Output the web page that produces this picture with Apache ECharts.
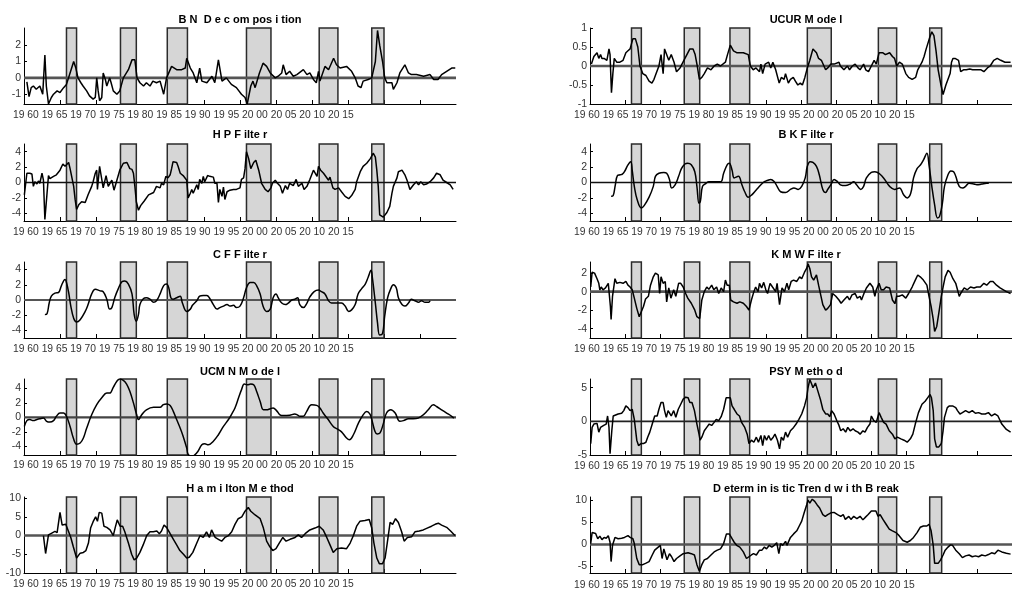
<!DOCTYPE html>
<html><head><meta charset="utf-8">
<script src="https://cdn.jsdelivr.net/npm/echarts@6/dist/echarts.min.js"></script>
<style>html,body{margin:0;padding:0;background:#fff}#c{width:1012px;height:590px}</style>
</head><body><div id="c"></div><script>
// ---------- DATA ----------
const recessions = [[1965.9,1967.3],[1973.4,1975.6],[1979.9,1982.7],[1990.9,1994.3],[2001.0,2003.6],[2008.3,2010.0]];
const xTicks = [1965,1970,1975,1980,1985,1990,1995,2000,2005,2010,2015];
const tickLabels = ['19 60','19 65','19 70','19 75','19 80','19 85','19 90','19 95','20 00','20 05','20 10','20 15'];
const titles = ['B N  D e c om pos i tion','UCUR M ode l','H P F ilte r','B K F ilte r','C F F ilte r','K M W F ilte r','UCM N M o de l','PSY M eth o d','H a m i lton M e thod','D eterm in is tic Tren d w i th B reak'];

const bnData = [[1960.4,-0.25],[1960.7,-1.15],[1961.0,-0.6],[1961.3,-0.5],[1961.7,-0.7],[1962.2,-0.5],[1962.6,-1.0],[1962.9,1.4],[1963.1,-0.5],[1963.4,-1.6],[1963.8,-1.2],[1964.1,-1.0],[1964.6,-0.8],[1965.0,-0.9],[1965.5,-0.6],[1965.9,-0.4],[1966.4,0.3],[1966.9,1.0],[1967.2,0.6],[1967.5,0],[1967.9,-0.3],[1968.2,-0.5],[1968.7,-0.8],[1969.1,-1.1],[1969.6,-1.3],[1969.9,-1.2],[1970.1,0],[1970.3,-0.8],[1970.5,-1.4],[1970.8,-1.2],[1971.0,0.3],[1971.3,-0.1],[1971.5,-0.5],[1971.9,0],[1972.1,-0.3],[1972.4,-0.8],[1972.9,-1.0],[1973.3,-0.8],[1973.8,0],[1974.5,0.5],[1975.0,1.1],[1975.4,1.1],[1975.7,0],[1976.1,-0.3],[1976.6,-0.5],[1977.0,-0.3],[1977.5,-0.5],[1977.9,-0.2],[1978.4,-0.3],[1978.9,-0.2],[1979.4,-1.0],[1979.8,0],[1980.5,0.7],[1981.2,0.5],[1981.9,0.5],[1982.4,0.6],[1982.6,1.2],[1983.1,0.6],[1983.5,0.3],[1984.0,-0.3],[1984.4,0.6],[1984.7,-0.2],[1985.4,-0.3],[1986.1,0.1],[1986.5,-0.3],[1987.0,1.1],[1987.5,-0.2],[1988.1,0],[1988.8,-0.4],[1989.5,-0.6],[1990.2,-1.0],[1990.7,-1.2],[1991.0,-1.6],[1991.5,-0.5],[1991.8,-0.2],[1992.1,-0.6],[1992.7,0.3],[1993.2,0.9],[1993.7,0.7],[1994.2,0.3],[1994.9,0],[1995.3,0.1],[1995.8,0.3],[1996.0,0.8],[1996.4,0.2],[1996.9,0.4],[1997.4,0.1],[1997.9,0.2],[1998.8,0.5],[1999.3,0.2],[1999.7,0.3],[2000.2,-0.1],[2000.6,-0.3],[2000.9,0.4],[2001.1,-0.2],[2001.8,0.7],[2002.3,0.5],[2003.0,1.2],[2003.4,0.8],[2003.9,0.6],[2004.8,0.7],[2005.5,0.4],[2006.0,0],[2006.4,-0.5],[2006.8,-0.6],[2007.1,-0.2],[2007.8,-0.1],[2008.3,0],[2008.8,1.0],[2009.1,2.9],[2009.4,2.0],[2009.8,1.0],[2010.1,0],[2010.4,-0.3],[2011.1,-0.3],[2011.3,-0.7],[2011.8,-0.3],[2012.2,0.3],[2012.9,0.8],[2013.4,0.3],[2013.8,0.2],[2014.5,0.2],[2015.5,0.1],[2016.4,0.2],[2016.9,-0.1],[2017.5,-0.1],[2018.0,0.2],[2018.7,0.4],[2019.4,0.6],[2019.9,0.6]];

const ucurData = [[1960.2,0.05],[1960.55,0.25],[1961.0,0.35],[1961.25,0.2],[1961.5,0.3],[1961.7,0.2],[1962.0,0.2],[1962.4,0.15],[1962.7,0.45],[1962.85,0.3],[1963.05,-0.7],[1963.25,-0.2],[1963.45,0.2],[1963.8,0.1],[1964.25,0.1],[1964.7,0.15],[1965.1,0.35],[1965.4,0.4],[1965.7,0.45],[1966.1,0.72],[1966.45,0.72],[1966.8,0.5],[1967.1,0.0],[1967.5,-0.2],[1967.95,-0.25],[1968.4,-0.4],[1968.8,-0.45],[1969.1,-0.35],[1969.4,-0.2],[1969.8,0.0],[1970.1,0.3],[1970.4,-0.2],[1970.6,0.45],[1970.85,0.5],[1971.2,0.15],[1971.55,0.3],[1971.95,0.1],[1972.3,-0.15],[1972.8,-0.05],[1973.5,0.2],[1974.2,0.45],[1974.65,0.45],[1974.95,0.3],[1975.25,0.0],[1975.55,-0.35],[1975.9,-0.3],[1976.25,-0.2],[1976.7,-0.05],[1977.2,-0.1],[1977.65,0.0],[1978.1,0.05],[1978.55,0.0],[1979.25,0.1],[1979.55,0.3],[1979.95,0.55],[1980.4,0.4],[1980.85,0.35],[1981.8,0.35],[1982.5,0.3],[1982.8,0.0],[1983.2,-0.1],[1983.6,-0.05],[1984.1,-0.15],[1984.3,0.05],[1984.55,-0.2],[1984.9,0.05],[1985.4,0.1],[1985.7,-0.05],[1986.0,0.1],[1986.4,-0.1],[1986.9,-0.45],[1987.2,-0.3],[1987.6,-0.35],[1987.8,-0.2],[1988.2,-0.45],[1988.5,-0.35],[1988.9,-0.3],[1989.2,-0.4],[1989.55,-0.5],[1989.9,-0.45],[1990.2,-0.5],[1990.55,-0.3],[1990.9,-0.05],[1991.25,0.15],[1991.7,0.45],[1992.2,0.35],[1992.5,0.2],[1992.9,0.15],[1993.5,-0.1],[1993.8,-0.05],[1994.25,0.05],[1994.7,0.05],[1994.9,0.1],[1995.4,0.1],[1995.6,0],[1996.1,-0.1],[1996.6,0],[1996.9,-0.1],[1997.3,0],[1997.7,0.05],[1998.1,-0.05],[1998.4,-0.1],[1998.9,0.05],[1999.2,-0.1],[1999.6,-0.15],[2000.0,0],[2000.4,0.15],[2000.7,0.05],[2001.1,0.35],[2001.6,0.35],[2002.0,0.3],[2002.6,0.35],[2003.0,0.25],[2003.3,0.2],[2003.6,0],[2004.0,0.1],[2004.4,0.05],[2004.9,-0.2],[2005.3,-0.3],[2005.8,-0.35],[2006.3,-0.3],[2006.6,-0.1],[2006.9,0],[2007.2,0.1],[2007.5,0.25],[2007.8,0.45],[2008.3,0.75],[2008.6,0.9],[2008.9,0.8],[2009.2,0.4],[2009.5,-0.1],[2009.9,-0.5],[2010.2,-0.75],[2010.6,-0.5],[2010.9,-0.35],[2011.2,-0.2],[2011.4,0.1],[2011.6,0.2],[2011.9,0.2],[2012.4,0.15],[2012.7,-0.15],[2013.1,-0.1],[2013.5,-0.1],[2014.0,-0.08],[2014.4,-0.1],[2015.1,-0.1],[2015.6,-0.1],[2016.0,-0.15],[2016.5,-0.05],[2016.9,0],[2017.4,0.15],[2017.9,0.2],[2018.4,0.15],[2019.0,0.1],[2019.8,0.1]];

const hpData = [[1960.05,-1.6],[1960.4,1.2],[1960.8,1.2],[1961.1,1.1],[1961.3,-0.5],[1961.5,0.1],[1961.8,-0.2],[1962.0,0.2],[1962.2,-0.1],[1962.5,1.2],[1962.7,0.3],[1962.9,-4.8],[1963.2,-1.4],[1963.4,0.9],[1963.6,0.5],[1964.1,0.8],[1964.5,1.0],[1965.0,1.6],[1965.4,2.4],[1965.7,2.1],[1965.9,1.9],[1966.2,2.6],[1966.4,1.8],[1966.6,1.6],[1966.9,-0.5],[1967.1,-2.2],[1967.3,-3.5],[1967.6,-2.9],[1968.0,-2.5],[1968.5,-2.6],[1968.9,-1.6],[1969.4,-0.5],[1969.6,0.1],[1969.9,1.2],[1970.1,1.6],[1970.2,-0.9],[1970.5,2.1],[1970.7,2.3],[1971.0,-0.7],[1971.4,0.9],[1971.7,-0.5],[1972.2,0.3],[1972.5,-1.0],[1972.9,0.3],[1973.3,1.6],[1973.8,2.5],[1974.3,2.6],[1974.7,1.8],[1975.0,1.7],[1975.2,1.2],[1975.4,-0.5],[1975.6,-2.5],[1975.9,-3.6],[1976.2,-3.0],[1976.7,-2.4],[1977.3,-1.6],[1978.0,-1.3],[1978.4,-0.5],[1978.9,-0.7],[1979.1,-0.1],[1979.4,-0.3],[1979.7,0.8],[1980.0,0.6],[1980.3,1.0],[1980.5,1.8],[1980.7,2.7],[1981.2,2.6],[1981.4,2.1],[1981.7,1.2],[1982.1,0.9],[1982.6,0.3],[1982.8,-2.0],[1983.1,-1.4],[1983.3,-0.9],[1983.5,-1.4],[1984.0,-0.3],[1984.2,-0.9],[1984.4,0.4],[1984.7,-0.1],[1984.9,0.8],[1985.1,0.1],[1985.5,0.9],[1985.8,0.8],[1986.3,0.7],[1986.5,-0.1],[1986.8,-0.1],[1987.0,-2.6],[1987.2,-0.9],[1987.5,-1.8],[1987.7,-0.6],[1987.9,-2.2],[1988.2,-1.2],[1988.6,-1.0],[1989.1,-0.9],[1989.5,-0.9],[1990.0,-0.7],[1990.2,0.4],[1990.5,0.6],[1990.7,1.8],[1990.9,4.0],[1991.2,3.1],[1991.5,1.8],[1991.9,2.6],[1992.2,2.9],[1992.6,1.6],[1993.0,-0.1],[1993.5,-0.9],[1993.9,-1.2],[1994.3,-0.7],[1994.5,-0.1],[1994.9,0.3],[1995.1,0],[1995.6,-0.5],[1995.9,-1.4],[1996.3,-0.4],[1996.6,-0.9],[1996.9,-0.1],[1997.4,-0.4],[1997.8,0.4],[1998.1,-0.5],[1998.6,-0.1],[1998.9,-0.9],[1999.3,-0.5],[1999.7,0.4],[2000.2,1.6],[2000.4,1.4],[2000.7,0.8],[2000.9,2.1],[2001.2,1.6],[2001.6,1.2],[2002.3,0.3],[2002.5,0.7],[2002.9,-0.7],[2003.2,-0.9],[2003.7,-0.7],[2004.1,-1.2],[2004.6,-1.8],[2005.1,-2.1],[2005.5,-1.7],[2006.0,-0.9],[2006.2,0.1],[2006.7,1.4],[2007.1,2.1],[2007.6,2.5],[2008.1,3.1],[2008.5,3.8],[2008.8,3.3],[2009.0,1.6],[2009.2,-0.5],[2009.4,-4.2],[2009.9,-4.5],[2010.4,-3.9],[2010.8,-3.1],[2011.1,-1.4],[2011.3,-0.5],[2011.8,0.6],[2012.0,1.4],[2012.5,1.6],[2012.9,1.0],[2013.2,0.3],[2013.4,-0.3],[2013.6,-0.9],[2014.1,-0.3],[2014.5,0.1],[2014.8,-0.3],[2015.1,0.1],[2015.5,-0.3],[2015.9,-0.2],[2016.4,0.1],[2016.9,0.6],[2017.3,1.2],[2017.8,1.0],[2018.2,0.3],[2018.7,0],[2019.2,-0.3],[2019.6,-0.9]];

const bkData = [[1963.0,-1.8],[1963.3,-1.7],[1963.6,-0.3],[1963.9,0.9],[1964.3,1.0],[1964.6,1.1],[1964.9,1.4],[1965.4,2.3],[1965.8,2.7],[1966.0,1.6],[1966.3,-0.5],[1966.7,-2.2],[1967.3,-3.3],[1967.7,-3.0],[1968.4,-1.9],[1969.0,-0.5],[1969.3,0.8],[1969.8,1.2],[1970.5,1.3],[1970.9,1.2],[1971.3,0.4],[1971.6,-0.7],[1972.1,-0.3],[1972.6,0.8],[1973.0,1.8],[1973.5,2.4],[1973.9,2.5],[1974.4,2.3],[1974.9,1.4],[1975.2,-0.5],[1975.5,-2.7],[1975.7,-2.4],[1976.0,-0.5],[1976.5,-0.1],[1976.9,0.1],[1977.9,0.1],[1978.6,0.1],[1979.0,1.2],[1979.5,2.3],[1979.8,2.5],[1980.2,1.6],[1980.5,0.6],[1981.1,0.8],[1981.6,-0.3],[1982.0,-1.2],[1982.5,-1.9],[1983.0,-1.6],[1983.6,-1.0],[1984.3,-0.3],[1984.8,0.1],[1985.3,0.3],[1985.7,0.4],[1986.2,0.1],[1986.6,-0.5],[1987.1,-1.2],[1987.8,-1.3],[1988.5,-0.9],[1989.0,-0.7],[1989.6,-0.9],[1990.1,-0.5],[1990.6,0.6],[1990.9,2.1],[1991.3,2.7],[1991.7,2.6],[1992.2,2.1],[1992.6,1.0],[1993.1,-0.9],[1993.5,-1.3],[1993.8,-0.9],[1994.3,-0.2],[1994.7,0.4],[1995.2,0.1],[1995.6,-0.3],[1996.3,-0.4],[1997.0,-0.2],[1997.5,0.1],[1997.9,-0.3],[1998.5,-0.9],[1998.9,-0.5],[1999.3,0.6],[2000.0,1.3],[2000.5,1.4],[2001.2,1.1],[2001.9,0.4],[2002.6,-0.5],[2003.3,-0.9],[2004.0,-0.7],[2004.6,-1.6],[2005.1,-2.0],[2005.6,-1.4],[2006.0,0.6],[2006.5,1.8],[2007.0,2.3],[2007.4,2.9],[2007.9,3.8],[2008.2,2.3],[2008.6,-0.5],[2009.0,-2.9],[2009.4,-4.6],[2009.7,-4.4],[2010.1,-2.7],[2010.4,-0.5],[2010.9,1.0],[2011.3,1.5],[2011.7,1.4],[2012.0,0.8],[2012.5,-0.5],[2013.0,-0.7],[2013.4,-0.5],[2013.9,-0.1],[2014.6,-0.2],[2015.0,-0.3],[2015.7,-0.2],[2016.4,-0.1],[2016.7,-0.1]];

const cfData = [[1962.9,-1.9],[1963.2,-1.8],[1963.5,-0.4],[1963.8,0.5],[1964.3,0.9],[1964.8,1.0],[1965.2,1.9],[1965.7,2.7],[1965.9,2.3],[1966.2,1.0],[1966.5,-0.8],[1966.9,-2.4],[1967.3,-2.9],[1967.8,-2.6],[1968.5,-1.5],[1968.9,-0.6],[1969.4,0.8],[1969.9,1.4],[1970.6,1.2],[1971.0,1.1],[1971.5,0.1],[1971.9,-1.2],[1972.2,-1.0],[1972.6,0.3],[1973.1,1.5],[1973.6,2.4],[1974.0,2.5],[1974.5,2.1],[1975.0,0.8],[1975.3,-1.9],[1975.6,-2.8],[1975.9,-1.9],[1976.1,-0.6],[1976.6,0.2],[1977.0,0.3],[1977.5,0.1],[1978.0,-0.3],[1978.4,-0.1],[1978.9,0.8],[1979.4,1.9],[1979.8,2.1],[1980.1,1.6],[1980.4,0.3],[1980.7,0.1],[1981.2,0.3],[1981.7,0.5],[1982.0,-0.4],[1982.6,-1.5],[1983.1,-1.2],[1983.4,-0.7],[1984.0,-0.1],[1984.4,0.5],[1984.9,0.6],[1985.4,0.6],[1985.8,0.2],[1986.3,-0.6],[1986.8,-1.2],[1987.2,-1.0],[1987.7,-0.8],[1988.2,-0.6],[1988.6,-0.8],[1989.1,-0.7],[1989.5,-1.0],[1990.0,-0.8],[1990.5,0.3],[1990.9,1.6],[1991.4,2.3],[1991.9,2.3],[1992.3,1.9],[1992.8,0.8],[1993.2,-0.8],[1993.7,-1.5],[1994.2,-1.2],[1994.6,0.3],[1995.0,0.8],[1995.3,0.3],[1995.8,-0.4],[1996.3,-0.6],[1996.7,-0.4],[1997.2,0],[1997.6,0.1],[1998.0,0.3],[1998.3,-0.6],[1998.8,-1.0],[1999.3,-0.4],[1999.7,0.4],[2000.3,1.1],[2000.9,1.3],[2001.3,1.1],[2001.8,0.8],[2002.3,-0.1],[2002.7,-0.4],[2003.2,-0.4],[2003.7,-0.4],[2004.1,-0.4],[2004.6,-0.8],[2005.1,-1.5],[2005.5,-1.3],[2006.0,-0.6],[2006.4,0.8],[2006.9,1.5],[2007.4,2.1],[2007.8,3.0],[2008.2,3.9],[2008.4,2.8],[2008.8,-0.4],[2009.1,-3.0],[2009.4,-4.6],[2009.8,-4.4],[2010.1,-2.1],[2010.5,0.3],[2010.9,1.4],[2011.3,2.0],[2011.7,1.6],[2012.0,0.3],[2012.5,-0.6],[2012.9,-0.8],[2013.4,-0.4],[2013.8,0.1],[2014.3,-0.1],[2014.8,-0.3],[2015.2,-0.1],[2015.7,-0.3],[2016.2,-0.3],[2016.4,-0.1]];

const kmwData = [[1960.1,0.5],[1960.3,2.1],[1960.65,2.0],[1961.0,1.4],[1961.25,0.9],[1961.4,0.2],[1961.6,0.5],[1961.85,0.2],[1962.2,0.4],[1962.4,0.25],[1962.6,0.9],[1962.9,-1.6],[1963.0,-3.0],[1963.2,-0.5],[1963.55,1.4],[1963.8,0.9],[1964.25,1.0],[1964.7,0.9],[1965.1,1.1],[1965.4,0.7],[1965.7,0.5],[1966.0,0.2],[1966.3,-0.7],[1966.65,-1.8],[1967.0,-2.7],[1967.25,-2.9],[1967.6,-1.6],[1967.9,-0.8],[1968.3,-0.5],[1968.6,0.7],[1969.0,1.6],[1969.3,2.0],[1969.7,1.8],[1969.9,-0.2],[1970.1,1.6],[1970.4,0.9],[1970.7,1.1],[1970.9,-1.1],[1971.2,0.4],[1971.5,-0.7],[1971.9,0.2],[1972.2,-0.5],[1972.6,0.9],[1972.9,0.9],[1973.25,0.5],[1973.6,-0.2],[1973.9,-0.7],[1974.4,-1.25],[1974.9,-2.0],[1975.2,-2.7],[1975.6,-2.9],[1975.9,-0.9],[1976.25,0],[1976.6,0.5],[1976.9,0.25],[1977.3,0.7],[1977.6,0.2],[1978.0,0.5],[1978.3,-0.2],[1978.65,0.4],[1979.0,0],[1979.25,1.25],[1979.5,0.7],[1979.8,0.7],[1980.0,-0.9],[1980.4,-1.1],[1980.9,-1.25],[1981.3,-1.1],[1981.8,-1.25],[1982.25,-1.6],[1982.6,-2.0],[1982.95,-0.9],[1983.3,0],[1983.55,0.5],[1983.9,0],[1984.1,0.9],[1984.4,0.4],[1984.7,1.0],[1985.0,0.2],[1985.25,-0.2],[1985.6,0.9],[1985.95,0.5],[1986.4,0],[1986.6,0.9],[1986.95,-1.4],[1987.3,0.4],[1987.65,0],[1988.0,0.9],[1988.25,0.2],[1988.6,1.1],[1988.95,1.25],[1989.4,1.1],[1989.8,1.6],[1990.1,1.4],[1990.5,2.1],[1990.8,2.5],[1991.0,3.0],[1991.25,2.5],[1991.5,1.6],[1991.8,1.25],[1992.2,1.8],[1992.5,0.7],[1992.8,-0.35],[1993.1,-1.4],[1993.5,-2.0],[1993.8,-1.8],[1994.2,-1.4],[1994.5,-0.2],[1994.95,-0.5],[1995.4,-0.9],[1995.7,-1.25],[1996.1,-0.9],[1996.6,-0.5],[1996.9,-0.9],[1997.25,-0.35],[1997.7,-0.2],[1998.0,-0.7],[1998.4,-0.5],[1998.6,-0.9],[1998.95,-0.2],[1999.3,0.4],[1999.8,0.9],[2000.2,0.5],[2000.5,-0.5],[2000.7,0.2],[2001.1,0.9],[2001.4,0.2],[2001.75,0.2],[2002.1,0.5],[2002.6,0.4],[2003.0,-0.9],[2003.35,-1.3],[2003.6,-0.5],[2003.95,-0.5],[2004.4,-0.35],[2004.9,-0.7],[2005.3,-0.2],[2005.8,0.5],[2006.25,1.25],[2006.6,1.8],[2006.95,1.6],[2007.4,1.25],[2007.9,0.7],[2008.2,-0.5],[2008.5,-1.6],[2008.8,-3.0],[2009.0,-4.3],[2009.3,-3.75],[2009.6,-2.3],[2009.95,-0.5],[2010.2,0.5],[2010.5,1.6],[2010.9,2.3],[2011.2,2.1],[2011.6,1.4],[2012.0,0.9],[2012.5,-0.5],[2012.7,-0.2],[2013.2,0.4],[2013.65,0.2],[2014.1,0.5],[2014.6,0.4],[2015.0,0.5],[2015.5,0.5],[2016.0,0.9],[2016.4,0.7],[2016.9,1.1],[2017.3,1.1],[2017.8,0.7],[2018.3,0.4],[2018.5,0.2],[2019.2,0.0],[2019.8,-0.2]];

const ucmnData = [[1960.05,-1.25],[1960.4,-0.45],[1960.8,-0.3],[1961.3,-0.45],[1961.8,-0.3],[1962.2,-0.2],[1962.7,-0.1],[1963.15,-0.55],[1963.6,-0.65],[1964.1,-0.45],[1964.5,0.15],[1965.0,0.6],[1965.5,0.6],[1965.9,0.15],[1966.4,-1.25],[1966.85,-2.85],[1967.3,-3.7],[1967.8,-3.55],[1968.25,-2.85],[1968.7,-1.5],[1969.4,0.35],[1970.1,1.75],[1970.8,2.7],[1971.5,3.35],[1971.9,3.35],[1972.4,4.15],[1972.9,5.0],[1973.3,5.3],[1973.8,5.1],[1974.25,4.6],[1974.7,3.6],[1975.2,2.0],[1975.65,0.35],[1975.9,-0.3],[1976.35,0.35],[1977.0,1.05],[1978.0,1.4],[1978.9,1.4],[1979.35,1.75],[1979.8,1.85],[1980.3,1.65],[1980.75,0.8],[1981.2,-0.3],[1981.7,-1.5],[1982.1,-2.6],[1982.6,-4.25],[1982.8,-5.1],[1983.3,-5.4],[1984.0,-4.9],[1984.7,-3.8],[1985.1,-3.65],[1985.6,-3.8],[1986.3,-3.3],[1987.0,-2.4],[1987.7,-1.25],[1988.4,-0.3],[1988.85,0.45],[1989.3,1.3],[1989.8,2.7],[1990.2,3.8],[1990.6,4.6],[1991.0,4.5],[1991.5,4.6],[1991.9,4.5],[1992.3,3.6],[1992.8,2.2],[1993.25,1.05],[1993.7,1.05],[1994.2,1.2],[1994.6,1.3],[1995.1,0.9],[1995.55,0.35],[1996.0,0.25],[1996.9,0.3],[1997.6,0.45],[1997.95,0.35],[1998.3,0.15],[1998.8,0.15],[1999.25,0.8],[1999.95,1.75],[2000.65,1.65],[2001.1,1.3],[2001.55,0.6],[2002.25,-0.3],[2002.95,-1.25],[2003.5,-1.6],[2004.1,-2.0],[2004.8,-2.85],[2005.2,-3.1],[2005.75,-2.4],[2006.45,-0.8],[2007.1,0.35],[2007.6,0.8],[2008.05,0.45],[2008.3,-0.3],[2008.75,-1.95],[2009.05,-2.3],[2009.45,-2.15],[2009.9,-0.9],[2010.35,0.6],[2010.95,1.05],[2011.55,0.6],[2012.2,-0.55],[2012.7,-0.45],[2013.4,-0.2],[2014.05,-0.2],[2014.75,-0.1],[2015.45,0.35],[2016.15,1.05],[2016.85,1.75],[2017.3,1.5],[2018.0,1.05],[2018.7,0.6],[2019.4,0.15],[2019.7,-0.1]];

const psyData = [[1960.1,-3.3],[1960.3,-0.9],[1960.55,-0.4],[1961.0,-0.3],[1961.25,-1.6],[1961.5,-0.9],[1961.7,-1.1],[1961.95,-0.6],[1962.3,-0.4],[1962.5,0.8],[1962.7,-0.9],[1962.85,-4.8],[1963.1,-1.4],[1963.3,0.8],[1963.55,0.6],[1964.0,1.1],[1964.5,1.2],[1964.8,1.6],[1965.1,2.3],[1965.4,2.05],[1965.7,1.6],[1966.0,1.8],[1966.3,0.3],[1966.65,-2.8],[1966.9,-3.6],[1967.25,-3.3],[1967.6,-3.3],[1967.95,-3.1],[1968.2,-2.35],[1968.5,-1.6],[1968.85,-0.4],[1969.2,0.8],[1969.55,0.8],[1969.8,1.8],[1970.1,2.8],[1970.4,2.8],[1970.6,1.6],[1970.85,0.6],[1971.1,1.6],[1971.3,1.8],[1971.55,0.8],[1971.9,1.6],[1972.2,0.6],[1972.55,1.8],[1972.9,2.55],[1973.25,3.3],[1973.6,3.6],[1973.95,3.5],[1974.2,2.8],[1974.5,2.8],[1974.85,1.6],[1975.2,-0.4],[1975.5,-1.9],[1975.65,-2.8],[1975.9,-2.35],[1976.25,-1.4],[1976.6,-0.9],[1976.95,-0.4],[1977.3,-0.6],[1977.65,-0.15],[1977.95,0.3],[1978.3,0.1],[1978.65,0.7],[1979.0,1.8],[1979.35,3.5],[1979.6,3.3],[1979.95,3.5],[1980.2,2.3],[1980.5,1.8],[1980.9,1.1],[1981.25,0.8],[1981.55,-0.15],[1982.0,-0.9],[1982.35,-1.9],[1982.6,-3.3],[1982.95,-2.8],[1983.3,-3.1],[1983.65,-2.35],[1983.95,-3.1],[1984.3,-2.1],[1984.55,-3.6],[1984.8,-2.1],[1985.1,-2.8],[1985.4,-2.1],[1985.7,-2.8],[1986.05,-2.35],[1986.3,-1.9],[1986.65,-2.8],[1986.95,-4.1],[1987.2,-2.35],[1987.5,-2.8],[1987.8,-1.6],[1988.1,-2.35],[1988.5,-1.4],[1988.95,-0.9],[1989.3,-0.4],[1989.7,0.3],[1990.1,1.1],[1990.5,2.3],[1990.8,3.5],[1991.0,5.0],[1991.25,6.2],[1991.5,5.6],[1991.7,5.0],[1992.05,5.7],[1992.4,4.5],[1992.75,3.3],[1993.1,1.8],[1993.5,1.1],[1993.8,1.1],[1994.1,0.7],[1994.35,1.6],[1994.7,1.1],[1995.1,0.1],[1995.4,-0.6],[1995.65,-1.4],[1996.0,-1.1],[1996.35,-1.6],[1996.65,-0.9],[1997.0,-1.4],[1997.4,-1.1],[1997.7,-1.4],[1998.1,-1.6],[1998.4,-1.9],[1998.8,-1.4],[1999.1,-1.6],[1999.45,-0.9],[1999.8,-0.4],[2000.0,0.8],[2000.35,0.1],[2000.7,-0.15],[2001.1,1.3],[2001.4,0.6],[2001.75,-0.15],[2002.1,-0.4],[2002.55,-1.4],[2003.0,-1.9],[2003.35,-2.6],[2003.7,-2.35],[2004.2,-2.6],[2004.65,-2.8],[2005.1,-3.1],[2005.55,-2.6],[2005.9,-1.9],[2006.25,-0.4],[2006.7,1.3],[2007.2,2.55],[2007.65,3.0],[2008.0,3.5],[2008.35,4.0],[2008.55,3.5],[2008.8,1.6],[2009.0,-2.6],[2009.25,-3.8],[2009.6,-3.8],[2009.95,-3.3],[2010.2,-1.4],[2010.4,0.6],[2010.8,2.05],[2011.1,2.3],[2011.35,2.55],[2011.55,2.3],[2012.0,2.05],[2012.25,1.6],[2012.6,1.1],[2012.95,1.3],[2013.4,1.6],[2013.9,1.3],[2014.35,1.6],[2014.8,1.2],[2015.25,1.3],[2015.7,1.1],[2016.2,1.1],[2016.65,1.3],[2017.1,0.8],[2017.55,1.1],[2018.0,0.8],[2018.55,-0.4],[2019.2,-1.2],[2019.8,-1.6]];

const hamData = [[1962.7,0],[1963.0,-4.8],[1963.4,0.2],[1963.8,0.6],[1964.3,1.1],[1964.6,0.8],[1965.0,6.2],[1965.3,2.8],[1965.8,3.0],[1966.2,1.0],[1966.5,-0.5],[1966.85,-3.0],[1967.3,-6.0],[1967.8,-4.7],[1968.25,-4.5],[1968.6,-4.0],[1968.95,-2.0],[1969.25,2.0],[1969.6,3.7],[1969.95,5.0],[1970.2,3.8],[1970.45,6.2],[1970.8,6.0],[1971.1,2.5],[1971.5,2.2],[1971.95,1.5],[1972.4,0],[1972.65,2.0],[1972.95,4.2],[1973.35,2.5],[1973.7,2.5],[1974.0,1.0],[1974.5,-2.0],[1974.95,-5.0],[1975.3,-6.5],[1975.65,-6.0],[1976.1,-4.5],[1976.55,-2.5],[1977.05,0],[1977.5,1.0],[1977.95,1.0],[1978.45,1.2],[1978.8,0.5],[1979.1,1.2],[1979.45,2.8],[1979.8,2.2],[1980.3,0.5],[1980.75,-1.0],[1981.2,-2.5],[1981.65,-4.0],[1982.15,-5.0],[1982.6,-6.0],[1982.95,-5.8],[1983.45,-4.5],[1984.0,-2.0],[1984.45,0],[1984.9,-0.5],[1985.35,1.0],[1985.75,-0.5],[1986.05,1.5],[1986.55,-0.5],[1987.0,-1.0],[1987.45,-1.5],[1987.9,-0.5],[1988.4,0],[1988.85,1.0],[1989.3,3.0],[1989.75,4.5],[1990.25,5.0],[1990.7,6.5],[1991.15,7.5],[1991.5,6.5],[1992.1,5.5],[1992.8,4.5],[1993.25,2.0],[1993.7,-1.5],[1994.15,-3.0],[1994.55,-4.0],[1995.0,-3.5],[1995.45,-2.0],[1995.95,-0.5],[1996.4,-1.5],[1996.95,-1.0],[1997.65,-0.5],[1998.1,0.2],[1998.55,-0.5],[1999.05,0.5],[1999.7,1.5],[2000.4,2.0],[2001.0,2.5],[2001.55,1.5],[2002.05,-0.5],[2002.5,-2.5],[2002.95,-4.5],[2003.45,-3.5],[2004.1,-3.3],[2004.8,-3.5],[2005.3,-2.0],[2005.75,0],[2006.2,2.5],[2006.65,3.8],[2007.35,4.0],[2007.95,4.3],[2008.3,2.0],[2008.6,-2.0],[2009.0,-6.0],[2009.35,-7.5],[2009.8,-7.5],[2010.15,-6.0],[2010.45,-2.0],[2010.85,3.5],[2011.2,3.0],[2011.6,4.5],[2012.0,3.5],[2012.45,1.0],[2012.8,-1.5],[2013.25,-0.5],[2013.85,-0.3],[2014.3,1.0],[2014.9,1.2],[2015.45,1.5],[2016.0,2.0],[2016.6,2.5],[2017.1,3.0],[2017.55,3.3],[2018.0,2.8],[2018.7,2.2],[2019.25,1.2],[2019.85,0]];

const dtbData = [[1960.1,0.2],[1960.3,2.7],[1960.8,2.5],[1961.1,1.3],[1961.4,1.9],[1961.7,1.1],[1962.0,1.6],[1962.3,1.4],[1962.6,2.0],[1962.85,0.5],[1963.0,-3.9],[1963.2,-0.2],[1963.55,1.6],[1964.0,1.3],[1964.5,1.4],[1964.9,1.6],[1965.4,2.0],[1965.7,1.6],[1966.1,1.3],[1966.3,0.2],[1966.65,-3.2],[1967.0,-4.6],[1967.5,-4.6],[1967.9,-4.3],[1968.4,-3.9],[1968.85,-2.4],[1969.2,-1.3],[1969.7,-0.6],[1970.0,-0.2],[1970.25,-3.2],[1970.5,-1.0],[1970.7,-1.3],[1970.95,-3.5],[1971.3,-2.1],[1971.6,-2.8],[1971.95,-3.9],[1972.3,-3.2],[1972.8,-2.6],[1973.25,-2.1],[1973.95,-1.9],[1974.4,-2.1],[1974.85,-2.4],[1975.2,-4.6],[1975.55,-6.1],[1975.9,-4.6],[1976.25,-3.5],[1976.7,-3.2],[1977.2,-2.4],[1977.65,-1.7],[1978.1,-1.3],[1978.55,-1.0],[1979.0,0.2],[1979.4,2.4],[1979.8,2.4],[1980.2,1.3],[1980.5,0.5],[1980.85,-0.2],[1981.3,-0.6],[1981.8,-1.7],[1982.25,-3.2],[1982.6,-2.8],[1982.95,-2.4],[1983.25,-2.1],[1983.65,-2.4],[1984.1,-1.3],[1984.45,-1.3],[1984.8,-0.6],[1985.1,-1.0],[1985.5,-0.2],[1985.85,-0.6],[1986.2,-0.2],[1986.55,0.4],[1986.85,-2.1],[1987.1,0.2],[1987.4,-0.2],[1987.8,0.7],[1988.0,-0.2],[1988.5,1.6],[1988.95,2.4],[1989.4,3.1],[1989.75,4.2],[1990.1,5.3],[1990.45,7.2],[1990.8,9.0],[1991.0,10.1],[1991.25,9.4],[1991.6,10.3],[1991.95,9.8],[1992.3,9.0],[1992.65,8.3],[1993.1,6.8],[1993.45,6.4],[1993.8,6.8],[1994.25,7.2],[1994.7,7.3],[1995.2,6.8],[1995.65,6.4],[1996.0,6.8],[1996.3,5.7],[1996.8,6.4],[1997.1,5.7],[1997.5,6.4],[1997.95,5.9],[1998.4,6.4],[1998.8,5.6],[1999.1,6.1],[1999.55,6.8],[2000.0,7.6],[2000.25,7.2],[2000.65,7.6],[2000.95,6.4],[2001.25,6.8],[2001.65,5.7],[2002.1,4.6],[2002.55,3.5],[2003.0,3.1],[2003.5,2.7],[2003.95,2.0],[2004.5,0.9],[2005.1,0.5],[2005.55,0.9],[2006.0,1.6],[2006.5,2.7],[2006.95,3.9],[2007.4,4.2],[2007.9,4.2],[2008.2,4.6],[2008.5,3.1],[2008.8,-0.2],[2009.0,-4.3],[2009.5,-4.3],[2009.85,-3.5],[2010.2,-2.4],[2010.5,-1.3],[2010.9,-0.6],[2011.25,-0.1],[2011.55,-0.2],[2012.0,-1.3],[2012.5,-2.1],[2012.95,-3.0],[2013.4,-2.6],[2013.9,-2.4],[2014.35,-2.8],[2014.8,-2.6],[2015.25,-2.8],[2015.7,-2.4],[2016.2,-2.6],[2016.65,-2.3],[2017.1,-1.9],[2017.55,-2.1],[2018.0,-1.3],[2018.55,-1.7],[2019.2,-2.0],[2019.8,-2.2]];

// y ranges and tick values per panel
const yRanges = [[-1.6,3.05],[-1,1],[-5,5],[-5,5],[-5,5],[-5,3.2],[-5.2,5.3],[-5,6.3],[-10,10.3],[-6.5,10.8]];
const yTickVals = [[-1,0,1,2],[-1,-0.5,0,0.5,1],[-4,-2,0,2,4],[-4,-2,0,2,4],[-4,-2,0,2,4],[-4,-2,0,2],[-4,-2,0,2,4],[-5,0,5],[-10,-5,0,5,10],[-5,0,5,10]];
const seriesData = [bnData,ucurData,hpData,bkData,cfData,kmwData,ucmnData,psyData,hamData,dtbData];
const smoothFlags = [false,false,false,0.4,0.4,false,0.4,false,false,false];
const zeroLine = [0];
const xSpan = [1960,2020];

// ---------- STYLE / LAYOUT ----------
const zeroStyles = [
  {color:'#555',width:2.6},{color:'#555',width:2.6},{color:'#111',width:1.6},{color:'#111',width:1.6},
  {color:'#555',width:2.2},{color:'#555',width:2.6},{color:'#444',width:2.2},{color:'#222',width:1.8},
  {color:'#555',width:2.6},{color:'#555',width:2.6}];
const rowTop = [28,144,262,379,497];
const rowH = [76,77,76,76,76];
const colLeft = [24,590];
const plotW = 432;
const titleY = [20,135,255,372,489];
const labelY = [[115,115],[232,232],[349,349],[465,466],[584,585]];
const labelX = [13,574];

const grids=[],xAxes=[],yAxes=[],series=[],graphics=[];
for(let i=0;i<10;i++){
  const row=Math.floor(i/2), col=i%2;
  grids.push({left:colLeft[col],top:rowTop[row],width:plotW,height:rowH[row]});
  xAxes.push({gridIndex:i,type:'value',min:xSpan[0],max:xSpan[1],
    axisLine:{show:true,onZero:false,lineStyle:{color:'#000',width:1}},
    axisTick:{show:true,inside:true,length:4,customValues:xTicks,lineStyle:{color:'#000',width:1}},
    axisLabel:{show:false},splitLine:{show:false}});
  yAxes.push({gridIndex:i,type:'value',min:yRanges[i][0],max:yRanges[i][1],
    axisLine:{show:true,onZero:false,lineStyle:{color:'#000',width:1}},
    axisTick:{show:true,inside:true,length:3,customValues:yTickVals[i],lineStyle:{color:'#000'}},
    axisLabel:{show:true,customValues:yTickVals[i],fontSize:10.5,color:'#333',margin:3,
      fontFamily:'"Liberation Sans", Arial, sans-serif',
      formatter:v=>String(v)},
    splitLine:{show:false}});
  // zero reference line + recession bands (drawn underneath the data line)
  series.push({type:'line',xAxisIndex:i,yAxisIndex:i,z:1,silent:true,
    data:xSpan.map(x=>[x,zeroLine[0]]),showSymbol:false,symbol:'none',
    lineStyle:zeroStyles[i],
    markArea:{silent:true,itemStyle:{color:'#d6d6d6',borderColor:'#2b2b2b',borderWidth:1.5},
      data:recessions.map(r=>[{xAxis:r[0]},{xAxis:r[1]}])}});
  series.push({type:'line',xAxisIndex:i,yAxisIndex:i,z:3,data:seriesData[i],
    showSymbol:false,symbol:'none',smooth:smoothFlags[i],clip:true,
    lineStyle:{color:'#000',width:1.5}});
  graphics.push({type:'text',x:colLeft[col]+plotW/2,y:titleY[row],z:10,
    style:{text:titles[i],fill:'#000',font:'bold 11px "Liberation Sans", Arial, sans-serif',
      align:'center',verticalAlign:'middle',textAlign:'center',textVerticalAlign:'middle'}});
  graphics.push({type:'text',x:labelX[col],y:labelY[row][col],z:10,
    style:{text:tickLabels.join(' '),fill:'#333',font:'10.3px "Liberation Sans", Arial, sans-serif',
      align:'left',verticalAlign:'middle',textAlign:'left',textVerticalAlign:'middle'}});
}

const chart = echarts.init(document.getElementById('c'),null,{renderer:'canvas'});
chart.setOption({animation:false,backgroundColor:'#fff',grid:grids,xAxis:xAxes,yAxis:yAxes,series:series,graphic:{elements:graphics}});
</script></body></html>
